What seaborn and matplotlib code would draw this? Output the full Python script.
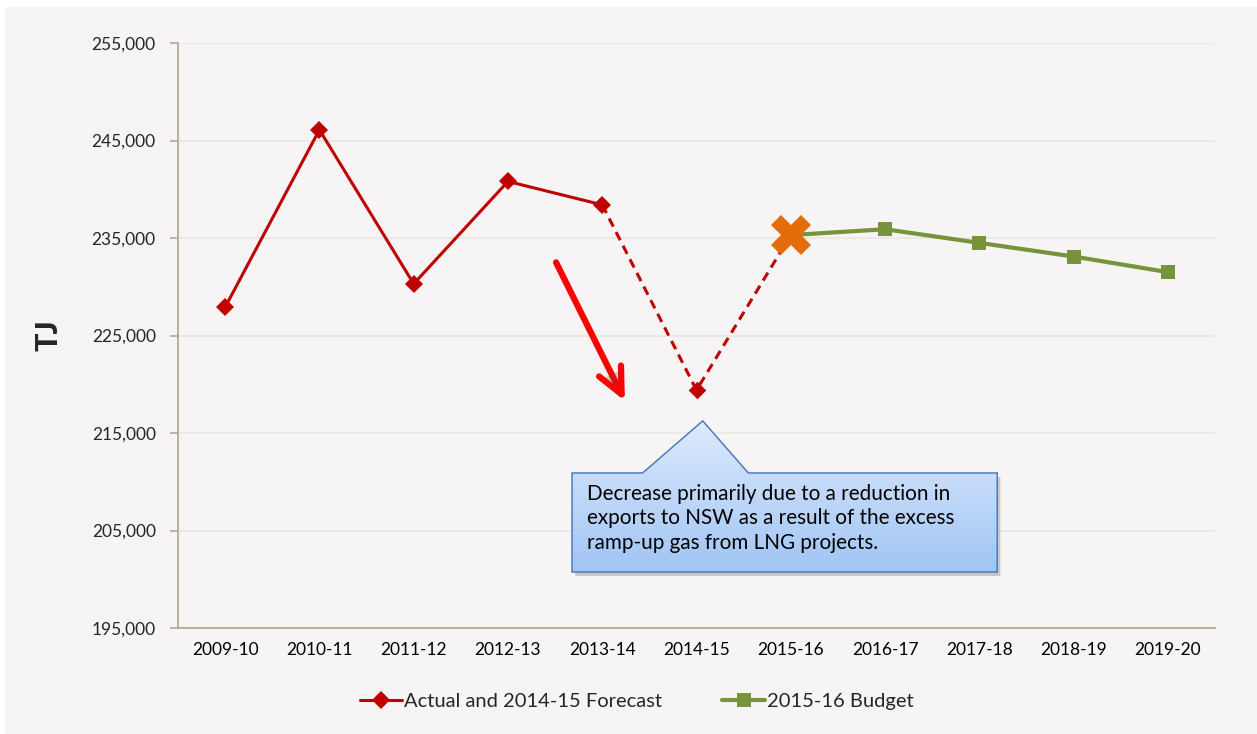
import numpy as np
import pandas as pd
import seaborn as sns
import matplotlib.pyplot as plt
from matplotlib.lines import Line2D
from matplotlib.patches import Polygon, Rectangle
from matplotlib import patheffects as pe

# Financial years on the category axis
years = ["2009-10", "2010-11", "2011-12", "2012-13", "2013-14", "2014-15",
         "2015-16", "2016-17", "2017-18", "2018-19", "2019-20"]
# Actuals to 2013-14, forecast for 2014-15 (TJ)
actual_years = ["2009-10", "2010-11", "2011-12", "2012-13", "2013-14", "2014-15"]
actual_tj = [227900, 246100, 230300, 240800, 238400, 219400]
# Budget projections from 2015-16 (TJ)
budget_years = ["2015-16", "2016-17", "2017-18", "2018-19", "2019-20"]
budget_tj = [235300, 235900, 234500, 233100, 231500]
y_ticks = [195000, 205000, 215000, 225000, 235000, 245000, 255000]

RED = "#C00000"
GREEN = "#77933C"
ORANGE = "#E46C0A"
BG = "#F6F4F5"
SPINE = "#B3A994"
GRID = "#EAE7E2"

sns.set_theme(style="white")
plt.rcParams["font.family"] = ["Lato", "DejaVu Sans"]

pos = {y: i for i, y in enumerate(years)}
actual = pd.DataFrame({"x": [pos[y] for y in actual_years], "tj": actual_tj})
budget = pd.DataFrame({"x": [pos[y] for y in budget_years], "tj": budget_tj})

fig = plt.figure(figsize=(12.57, 7.34), dpi=100, facecolor="white")
fig.patches.append(Rectangle((5 / 1257, 0), 1 - 5 / 1257, 1 - 7 / 734,
                             transform=fig.transFigure, facecolor=BG,
                             edgecolor="none", zorder=-10))
ax = fig.add_axes([178 / 1257, 1 - 628 / 734, 1037 / 1257, 585 / 734])
ax.set_facecolor(BG)

# Solid actuals up to 2013-14
solid = actual.iloc[:5]
sns.lineplot(data=solid, x="x", y="tj", ax=ax, color=RED, lw=2.2,
             marker="D", markersize=9, markeredgewidth=0, zorder=4)
# Dashed link through the 2014-15 forecast to the 2015-16 budget value
dashed = pd.concat([actual.iloc[4:], budget.iloc[:1]], ignore_index=True)
sns.lineplot(data=dashed, x="x", y="tj", ax=ax, color=RED, lw=2.2,
             linestyle=(0, (3, 2)), zorder=3)
sns.scatterplot(data=actual.iloc[5:], x="x", y="tj", ax=ax, color=RED,
                marker="D", s=80, linewidth=0, zorder=5)
# Budget series
sns.lineplot(data=budget, x="x", y="tj", ax=ax, color=GREEN, lw=3,
             marker="s", markersize=10, markeredgewidth=0, zorder=4)
# Highlight for the 2015-16 budget point
ax.plot(budget["x"].iloc[0], budget["tj"].iloc[0], marker="X",
        markersize=29, color=ORANGE, markeredgewidth=0, zorder=6)

# Axes styling
ax.set_xlim(-0.5, len(years) - 0.5)
ax.set_ylim(y_ticks[0], y_ticks[-1])
ax.set_yticks(y_ticks)
ax.set_yticklabels([f"{v:,}" for v in y_ticks])
ax.set_xticks(range(len(years)))
ax.set_xticklabels(years)
ax.set_xticks(np.arange(-0.5, len(years), 1.0), minor=True)
ax.tick_params(axis="x", which="major", length=0, pad=10, labelsize=12.5, colors="black")
ax.tick_params(axis="x", which="minor", length=6, color=SPINE, width=1.2, direction="out")
ax.tick_params(axis="y", length=6, color=SPINE, width=1.2, direction="out",
               pad=10, labelsize=12.5, left=True)
ax.grid(axis="y", color=GRID, lw=1.2)
ax.grid(axis="x", visible=False)
for side in ("top", "right"):
    ax.spines[side].set_visible(False)
for side in ("left", "bottom"):
    ax.spines[side].set_color(SPINE)
    ax.spines[side].set_linewidth(1.3)
ax.set_xlabel("")
ax.set_ylabel("TJ", fontsize=22, fontweight="black")
ax.yaxis.set_label_coords(-0.111, 0.5)

# Red trend arrow
arrow = ax.annotate("", xy=(4.24, 218300), xytext=(3.51, 232500),
                    arrowprops=dict(arrowstyle="->,head_length=0.85,head_width=0.4",
                                    mutation_scale=22, color="#FF0000", lw=4.5,
                                    shrinkA=0, shrinkB=0,
                                    joinstyle="round", capstyle="round"),
                    zorder=5)
arrow.arrow_patch.set_path_effects([pe.SimplePatchShadow(offset=(2, -2), alpha=0.25),
                                    pe.Normal()])

# Callout box with pointer towards the 2014-15 dip
x0, x1 = 0.380, 0.790
yb, yt = 0.0957, 0.265
tip = (0.506, 0.354)
bl, br = 0.448, 0.550
verts = [(x0, yb), (x1, yb), (x1, yt), (br, yt), tip, (bl, yt), (x0, yt)]
shadow = Polygon([(vx + 0.003, vy - 0.007) for vx, vy in verts], closed=True,
                 transform=ax.transAxes, facecolor="black", alpha=0.18,
                 edgecolor="none", zorder=6)
ax.add_patch(shadow)
callout = Polygon(verts, closed=True, transform=ax.transAxes, facecolor="none",
                  edgecolor="#4A7EBB", lw=1.1, zorder=8)
ax.add_patch(callout)
grad = np.linspace(0, 1, 256).reshape(-1, 1)
top_c = np.array([0.87, 0.92, 0.99])
bot_c = np.array([0.63, 0.77, 0.96])
img = top_c * (1 - grad[..., None]) + bot_c * grad[..., None]
im = ax.imshow(img, extent=(x0, x1, yb, tip[1]), transform=ax.transAxes,
               aspect="auto", origin="upper", zorder=7)
im.set_clip_path(Polygon(verts, closed=True, transform=ax.transAxes))
ax.text(x0 + 0.0145, yt - 0.018,
        "Decrease primarily due to a reduction in\n"
        "exports to NSW as a result of the excess\n"
        "ramp-up gas from LNG projects.",
        transform=ax.transAxes, ha="left", va="top", fontsize=14.9,
        linespacing=1.3, color="black", zorder=9)

ax.set_xlim(-0.5, len(years) - 0.5)
ax.set_ylim(y_ticks[0], y_ticks[-1])

# Legend below the plot
handles = [
    Line2D([], [], color=RED, lw=2.2, marker="D", markersize=9, markeredgewidth=0),
    Line2D([], [], color=GREEN, lw=3, marker="s", markersize=10, markeredgewidth=0),
]
fig.legend(handles, ["Actual and 2014-15 Forecast", "2015-16 Budget"],
           loc="center", bbox_to_anchor=(0.5064, 1 - 701 / 734), ncol=2, frameon=False,
           fontsize=14.5, handlelength=2.1, handletextpad=0.1, columnspacing=3.0)

fig.savefig("out.png", dpi=100, facecolor=fig.get_facecolor())
